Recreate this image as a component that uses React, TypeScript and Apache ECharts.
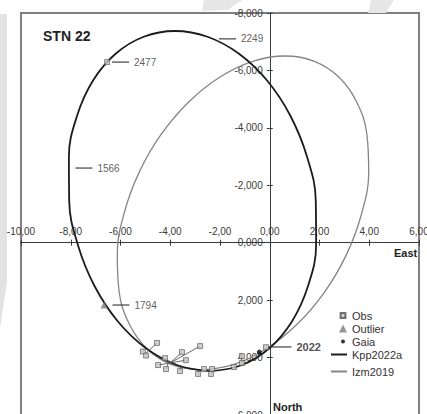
import React, { useEffect, useRef } from 'react';
import * as echarts from 'echarts';

// Relative orbit of STN 22: offsets in arcsec, East along x, North down the inverted y axis.
const X_MIN = -10;
const X_MAX = 6;
const Y_MIN = -8;
const Y_MAX = 6;
const TICK_STEP = 2;

// Orbit Kpp2022a, traced along the ellipse
const kpp2022a: [number, number][] = [
  [-2.402, 4.469], [-1.144, 4.267], [-0.014, 3.675], [0.898, 2.734], [1.538, 1.508],
  [1.863, 0.08], [1.851, -1.452], [1.502, -2.985], [0.834, -4.413], [-0.098, -5.639],
  [-1.236, -6.58], [-2.503, -7.172], [-3.809, -7.374], [-5.067, -7.172], [-6.197, -6.58],
  [-7.11, -5.639], [-7.749, -4.413], [-8.074, -2.985], [-8.062, -1.452], [-7.712, 0.08],
  [-7.045, 1.508], [-6.113, 2.734], [-4.975, 3.675], [-3.709, 4.267], [-2.402, 4.469],
];

// Orbit Izm2019
const izm2019: [number, number][] = [
  [-2.764, 4.434], [-1.469, 4.249], [-0.151, 3.703], [1.108, 2.832], [2.217, 1.7],
  [3.102, 0.38], [3.7, -1.034], [3.978, -2.449], [3.906, -3.769], [3.495, -4.901],
  [2.776, -5.771], [1.795, -6.318], [0.613, -6.503], [-0.681, -6.318], [-2.0, -5.771],
  [-3.258, -4.901], [-4.368, -3.769], [-5.252, -2.449], [-5.851, -1.034], [-6.129, 0.38],
  [-6.056, 1.7], [-5.646, 2.832], [-4.927, 3.703], [-3.946, 4.249], [-2.764, 4.434],
];

// Measured positions and their computed places on the orbit (O-C residuals)
const observed: [number, number][] = [
  [-6.54, -6.29], [-4.53, 3.49], [-5.1, 3.79], [-4.97, 3.93], [-2.8, 3.6],
  [-3.53, 3.81], [-3.37, 4.09], [-4.21, 4.02], [-4.49, 4.26], [-4.17, 4.4],
  [-3.61, 4.47], [-2.88, 4.57], [-2.36, 4.57], [-2.64, 4.4], [-2.32, 4.4],
  [-1.44, 4.33], [-1.12, 4.19], [-1.12, 3.95], [-0.15, 3.64],
];
const computed: [number, number][] = [
  [-6.54, -6.29], [-4.93, 3.81], [-5.06, 3.7], [-4.93, 3.81], [-4.01, 4.19],
  [-4.01, 4.19], [-4.01, 4.19], [-4.01, 4.19], [-4.01, 4.19], [-4.09, 4.22],
  [-3.61, 4.33], [-2.88, 4.47], [-2.36, 4.47], [-2.64, 4.4], [-2.32, 4.4],
  [-1.44, 4.28], [-1.12, 4.15], [-1.12, 3.98], [-0.15, 3.62],
];

const outliers: [number, number][] = [[-6.66, 2.17]];
const gaia: [number, number][] = [[-0.42, 3.81]];

// Epoch tags along the orbit: [x, y, year]
const epochTags: [number, number, string][] = [
  [-6.0, -6.29, '2477'],
  [-1.7, -7.1, '2249'],
  [-7.47, -2.6, '1566'],
  [-5.98, 2.17, '1794'],
];
const currentEpoch: [number, number, string][] = [[0.45, 3.63, '2022']];

const NARROW = "'Liberation Sans Narrow', 'Arial Narrow', 'Liberation Sans', Arial, sans-serif";
const WIDE = "'Liberation Sans', Arial, sans-serif";

const DARK = '#1c1c1c';
const GREY = '#858585';

const fmtX = (v: number) => v.toFixed(2).replace('.', ',');
const fmtY = (v: number) => v.toFixed(3).replace('.', ',');

export default function App() {
  const ref = useRef<HTMLDivElement>(null);

  useEffect(() => {
    if (!ref.current) return;
    const chart = echarts.init(ref.current, undefined, { renderer: 'svg' });

    const axisLineStyle = { color: '#3a3a3a', width: 1 };
    const xBase = {
      type: 'value' as const,
      min: X_MIN,
      max: X_MAX,
      interval: TICK_STEP,
      splitLine: { show: false },
    };
    const yBase = {
      type: 'value' as const,
      min: Y_MIN,
      max: Y_MAX,
      interval: TICK_STEP,
      inverse: true,
      splitLine: { show: false },
    };
    const tick = { show: true, length: 3, lineStyle: axisLineStyle };
    const line = { show: true, onZero: false, lineStyle: axisLineStyle };

    chart.setOption({
      animation: false,
      backgroundColor: '#ffffff',
      textStyle: { fontFamily: NARROW },
      grid: {
        left: 21,
        top: 13,
        width: 398,
        height: 402,
        containLabel: false,
        outerBoundsMode: 'none',
        show: true,
        borderColor: '#7f7f7f',
        borderWidth: 2,
        backgroundColor: 'transparent',
      },
      xAxis: [
        {
          ...xBase,
          position: 'top',
          axisLine: line,
          axisTick: tick,
          axisLabel: {
            formatter: fmtX,
            fontSize: 10,
            color: '#3a3a3a',
            margin: 6,
            fontFamily: NARROW,
            showMinLabel: true,
            showMaxLabel: true,
          },
        },
        {
          ...xBase,
          position: 'bottom',
          axisLine: line,
          axisTick: tick,
          axisLabel: { show: false },
        },
      ],
      yAxis: [
        {
          ...yBase,
          position: 'left',
          axisLine: line,
          axisTick: tick,
          axisLabel: {
            formatter: fmtY,
            fontSize: 10,
            color: '#3a3a3a',
            margin: 7,
            fontFamily: NARROW,
            showMinLabel: true,
            showMaxLabel: true,
          },
        },
        {
          ...yBase,
          position: 'right',
          axisLine: line,
          axisTick: tick,
          axisLabel: { show: false },
        },
      ],
      legend: [
        {
          data: [
            { name: 'Obs', icon: 'path://M0,0M10,10M2,2h6v6h-6z' },
            { name: 'Outlier', icon: 'triangle' },
            { name: 'Gaia', icon: 'path://M0,0M10,10M2.5,5A2.5,2.5,0,1,0,7.5,5A2.5,2.5,0,1,0,2.5,5Z' },
          ],
          orient: 'vertical',
          left: 338,
          top: 309,
          padding: 0,
          itemWidth: 8,
          itemHeight: 8,
          itemGap: 0,
          selectedMode: false,
          textStyle: { fontSize: 11, lineHeight: 13, color: '#333', fontFamily: NARROW },
        },
        {
          data: [
            { name: 'Kpp2022a', icon: 'rect', itemStyle: { color: DARK, borderWidth: 0 } },
            { name: 'Izm2019', icon: 'rect', itemStyle: { color: GREY, borderWidth: 0 } },
          ],
          orient: 'vertical',
          left: 331,
          top: 348,
          padding: 0,
          itemWidth: 16,
          itemHeight: 2,
          itemGap: 4,
          selectedMode: false,
          textStyle: { fontSize: 11, lineHeight: 13, color: '#333', fontFamily: NARROW },
        },
      ],
      graphic: [
        // faint background bands
        { type: 'polygon', z: 0, shape: { points: [[0, 14], [7, 14], [7, 282], [0, 328]] }, style: { fill: '#e2e2e2' }, silent: true },
        { type: 'polygon', z: 0, shape: { points: [[204, 0], [242, 0], [228, 10], [202, 11]] }, style: { fill: '#e6e6e6' }, silent: true },
        { type: 'polygon', z: 0, shape: { points: [[371, 0], [394, 0], [386, 13], [368, 13]] }, style: { fill: '#e6e6e6' }, silent: true },
        {
          type: 'text',
          x: 43,
          y: 36,
          style: { text: 'STN 22', font: `bold 14px ${WIDE}`, fill: '#222', verticalAlign: 'middle' },
        },
        {
          type: 'text',
          x: 394,
          y: 253,
          style: { text: 'East', font: `bold 11px ${NARROW}`, fill: '#222', verticalAlign: 'middle' },
        },
        {
          type: 'text',
          x: 273,
          y: 407,
          style: { text: 'North', font: `bold 11px ${NARROW}`, fill: '#222', verticalAlign: 'middle' },
        },
      ],
      series: [
        {
          name: 'Kpp2022a',
          type: 'line',
          data: kpp2022a,
          smooth: 0.4,
          symbol: 'none',
          showSymbol: false,
          color: DARK,
          lineStyle: { color: DARK, width: 1.8 },
          z: 4,
        },
        {
          name: 'Izm2019',
          type: 'line',
          data: izm2019,
          smooth: 0.4,
          symbol: 'none',
          showSymbol: false,
          color: GREY,
          lineStyle: { color: GREY, width: 1.3 },
          z: 3,
        },
        {
          name: 'O-C',
          type: 'lines',
          coordinateSystem: 'cartesian2d',
          data: observed.map((o, i) => ({ coords: [o, computed[i]] })),
          lineStyle: { color: '#555', width: 0.9, opacity: 1 },
          silent: true,
          z: 5,
        },
        {
          name: 'Obs',
          type: 'scatter',
          data: observed,
          symbol: 'rect',
          symbolSize: 5,
          itemStyle: { color: '#c4c4c4', borderColor: '#505050', borderWidth: 0.8 },
          z: 6,
        },
        {
          name: 'Outlier',
          type: 'scatter',
          data: outliers,
          symbol: 'triangle',
          symbolSize: 7,
          itemStyle: { color: '#7a7a7a' },
          z: 6,
        },
        {
          name: 'Gaia',
          type: 'scatter',
          data: gaia,
          symbol: 'circle',
          symbolSize: 5,
          itemStyle: { color: '#000' },
          z: 7,
        },
        {
          name: 'Epochs',
          type: 'scatter',
          data: epochTags,
          symbol: 'rect',
          symbolSize: [17, 1.4],
          itemStyle: { color: '#333' },
          label: {
            show: true,
            position: 'right',
            distance: 5,
            formatter: (p: any) => p.value[2],
            fontSize: 10,
            color: '#333',
            fontFamily: NARROW,
          },
          z: 6,
        },
        {
          name: 'Now',
          type: 'scatter',
          data: currentEpoch,
          symbol: 'rect',
          symbolSize: [21, 1.4],
          itemStyle: { color: '#333' },
          label: {
            show: true,
            position: 'right',
            distance: 5,
            formatter: (p: any) => p.value[2],
            fontSize: 11,
            fontWeight: 'bold',
            color: '#222',
            fontFamily: NARROW,
          },
          z: 6,
        },
      ],
    });

    // Move the axes so that they cross at the origin, reading the pixel positions from the grid's own scales.
    const finder = { xAxisIndex: 0, yAxisIndex: 0 };
    const zero = chart.convertToPixel(finder, [0, 0]) as number[];
    const topLeft = chart.convertToPixel(finder, [X_MIN, Y_MIN]) as number[];
    const bottomRight = chart.convertToPixel(finder, [X_MAX, Y_MAX]) as number[];
    if (zero && topLeft && bottomRight) {
      chart.setOption({
        xAxis: [{ offset: topLeft[1] - zero[1] }, { offset: zero[1] - bottomRight[1] }],
        yAxis: [{ offset: topLeft[0] - zero[0] }, { offset: zero[0] - bottomRight[0] }],
      });
    }

    return () => chart.dispose();
  }, []);

  return (
    <div
      ref={ref}
      style={{ position: 'fixed', left: 0, top: 0, width: 427, height: 414, background: '#fff' }}
    />
  );
}
